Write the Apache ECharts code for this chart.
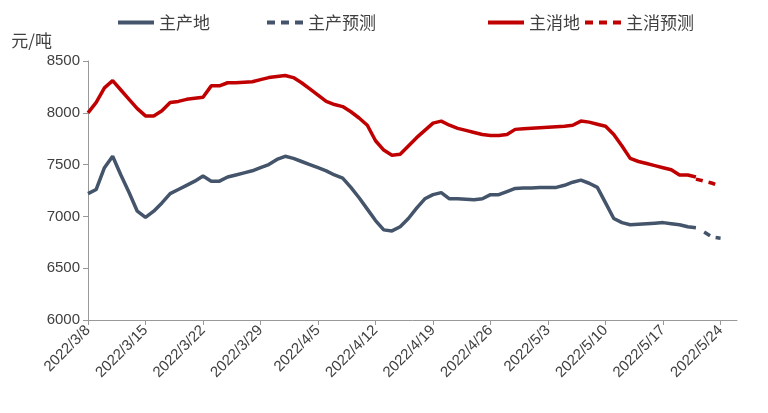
<!DOCTYPE html><html><head><meta charset="utf-8"><script src="https://cdn.jsdelivr.net/npm/echarts@6/dist/echarts.min.js"></script></head><body style="margin:0"><div id="c" style="width:768px;height:413px"></div><script>
const start=new Date(2022,2,8);const dates=[];for(let i=0;i<80;i++){const d=new Date(start.getTime()+i*864e5);dates.push(d.getFullYear()+'/'+(d.getMonth()+1)+'/'+d.getDate());}
const N=v=>Array(v).fill(null);
const prod=[7220,7260,7470,7580,7400,7230,7050,6990,7050,7130,7220,7260,7300,7340,7390,7340,7340,7380,7400,7420,7440,7470,7500,7550,7580,7560,7530,7500,7470,7440,7400,7370,7280,7180,7070,6960,6870,6860,6900,6980,7080,7170,7210,7230,7170,7170,7165,7160,7170,7210,7210,7240,7270,7275,7275,7280,7280,7280,7300,7330,7350,7320,7280,7130,6980,6940,6920,6925,6930,6935,6940,6930,6920,6900,6890];
const prodF=N(75).concat([6850,6800,6790]);
const cons=[8000,8100,8240,8310,8220,8130,8040,7970,7970,8020,8100,8110,8130,8140,8150,8260,8260,8290,8290,8295,8300,8320,8340,8350,8360,8340,8290,8230,8170,8110,8080,8060,8010,7950,7880,7730,7640,7590,7600,7680,7760,7830,7900,7920,7880,7850,7830,7810,7790,7780,7780,7790,7840,7845,7850,7855,7860,7865,7870,7880,7920,7910,7890,7870,7790,7680,7560,7530,7510,7490,7470,7450,7400,7400,7380];
const consF=N(74).concat([7360,7340,7320,7290]);
const B='#44546a',R='#c00000';
const SOL='path://M0,0h36v4h-36z',DSH='path://M0,0h8v4h-8zM14,0h8v4h-8zM28,0h8v4h-8z';
function s(name,data,color,dash){return {name,type:'line',data,symbol:'none',lineStyle:{width:3.5,color,type:dash?[7,6]:'solid'},itemStyle:{color}};}
function lg(name,icon,left){return {top:9,left,itemWidth:36,itemHeight:4,itemGap:10,textStyle:{fontSize:17,color:'#404040'},data:[{name,icon}]};}
echarts.init(document.getElementById('c')).setOption({animation:false,
textStyle:{fontFamily:'Noto Sans CJK SC'},
legend:[lg('主产地',SOL,113),lg('主产预测',DSH,262),lg('主消地',SOL,483),lg('主消预测',DSH,580)],
grid:{left:88,right:31,top:61,bottom:93},
xAxis:{type:'category',data:dates,boundaryGap:false,axisTick:{show:true,interval:6},axisLine:{lineStyle:{color:'#999'}},axisLabel:{interval:6,rotate:45,fontSize:15,color:'#404040',fontFamily:'Liberation Sans'}},
yAxis:{type:'value',min:6000,max:8500,interval:500,name:'元/吨',nameGap:12,nameLocation:'end',nameTextStyle:{fontSize:17,color:'#404040',align:'right',padding:[0,36,0,0]},splitLine:{show:false},axisLine:{show:true,lineStyle:{color:'#999'}},axisTick:{show:true},axisLabel:{fontSize:15,color:'#404040',fontFamily:'Liberation Sans',formatter:v=>String(v)}},
series:[s('主产地',prod,B,false),s('主产预测',prodF,B,true),s('主消地',cons,R,false),s('主消预测',consF,R,true)]});
</script></body></html>
